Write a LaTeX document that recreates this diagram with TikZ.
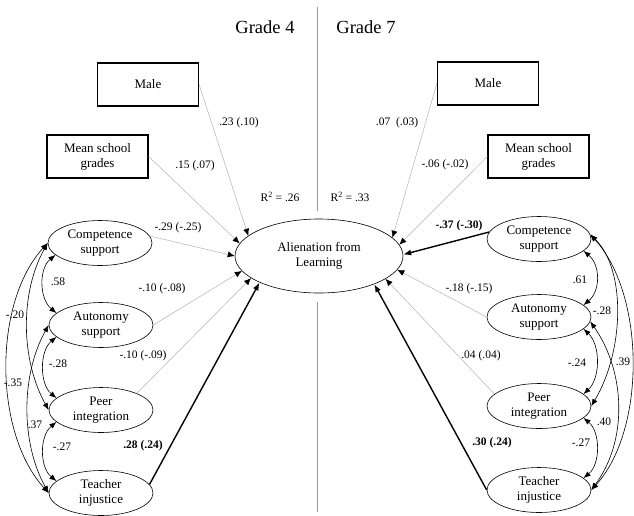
\documentclass[tikz,border=0pt]{standalone}
\usepackage{fontspec}
\setmainfont{Liberation Serif}
\usetikzlibrary{shapes.geometric,arrows.meta}
\begin{document}
\begin{tikzpicture}[x=1pt,y=-1pt,
  box/.style={draw,line width=1.3pt,minimum width=101pt,minimum height=43pt,inner sep=0pt,align=center,font=\fontsize{13}{15}\selectfont},
  ell/.style={ellipse,draw,line width=0.6pt,minimum width=104pt,minimum height=45pt,inner sep=0pt,align=center,font=\fontsize{13}{15}\selectfont},
  lab/.style={font=\fontsize{11.5}{13}\selectfont,inner sep=0pt},
  head/.style={font=\fontsize{18.5}{20}\selectfont,inner sep=0pt},
  ns/.style={draw=gray!60,line width=0.5pt,-{Latex[length=7pt,width=6pt,color=black]}},
  sig/.style={draw=black,line width=1.4pt,-{Latex[length=8pt,width=6pt]}},
  cor/.style={draw=black,line width=0.6pt,{Latex[length=7pt,width=5.5pt]}-{Latex[length=7pt,width=5.5pt]}},
  divider/.style={draw=gray!80,line width=0.8pt}
]
\useasboundingbox (0,0) rectangle (634,515);

% divider
\draw[divider] (317,7) -- (317,211);
\draw[divider] (317,302) -- (317,512);

% headings
\node[head] (g4) at (265,27) {Grade 4};
\node[head] (g7) at (366,27) {Grade 7};
\node[lab] (r4) at (280,197) {R\textsuperscript{2} = .26};
\node[lab] (r7) at (350,197) {R\textsuperscript{2} = .33};

% central node
\node[ell,minimum width=168pt,minimum height=74pt] (alien) at (319,256) {Alienation from\\Learning};

% Grade 4 nodes
\node[box] (male4) at (148,84.5) {Male};
\node[box] (msg4) at (97.5,156.5) {Mean school\\grades};
\node[ell] (comp4) at (100,243) {Competence\\support};
\node[ell] (auto4) at (101,325) {Autonomy\\support};
\node[ell] (peer4) at (101,410) {Peer\\integration};
\node[ell] (teach4) at (101,493) {Teacher\\injustice};

% Grade 7 nodes
\node[box] (male7) at (488,83.5) {Male};
\node[box] (msg7) at (538.5,156.5) {Mean school\\grades};
\node[ell] (comp7) at (539,239) {Competence\\support};
\node[ell] (auto7) at (539,317) {Autonomy\\support};
\node[ell] (peer7) at (539,406) {Peer\\integration};
\node[ell] (teach7) at (539,490) {Teacher\\injustice};

% Grade 4 paths
\draw[ns] (male4.east) -- (alien.164);
\draw[ns] (msg4.east) -- (alien.171);
\draw[ns] (comp4.8) -- (alien.180);
\draw[ns] (auto4.east) -- (alien.191);
\draw[ns] (peer4.25) -- (alien.198);
\draw[sig] (teach4.10) -- (alien.204);

% Grade 7 paths
\draw[ns] (male7.west) -- (alien.14);
\draw[ns] (msg7.west) -- (alien.8);
\draw[sig] (comp7.172) -- (alien.1);
\draw[ns] (auto7.west) -- (alien.-10);
\draw[ns] (peer7.165) -- (alien.-19);
\draw[sig] (teach7.180) -- (alien.-27);

% Grade 4 path labels
\node[lab] (l1) at (239,123) {.23 (.10)};
\node[lab] (l2) at (195,166) {.15 (.07)};
\node[lab] (l3) at (178,228) {-.29 (-.25)};
\node[lab] (l4) at (162,289) {-.10 (-.08)};
\node[lab] (l5) at (143,356) {-.10 (-.09)};
\node[lab] (l6) at (143,446) {\textbf{.28 (.24)}};

% Grade 7 path labels
\node[lab] (m1) at (397,123) {.07\ \ (.03)};
\node[lab] (m2) at (445,165) {-.06 (-.02)};
\node[lab] (m3) at (459,226) {\textbf{-.37 (-.30)}};
\node[lab] (m4) at (469,289) {-.18 (-.15)};
\node[lab] (m5) at (481,356) {.04 (.04)};
\node[lab] (m6) at (492,443) {\textbf{.30 (.24)}};

% Grade 4 correlations
\draw[cor] (comp4.195) .. controls +(-17,14) and +(-17,-14) .. (auto4.165);
\draw[cor] (auto4.195) .. controls +(-17,14) and +(-17,-14) .. (peer4.165);
\draw[cor] (peer4.195) .. controls +(-17,14) and +(-17,-14) .. (teach4.165);
\draw[cor] (comp4.180) .. controls +(-28,50) and +(-28,-50) .. (peer4.180);
\draw[cor] (auto4.180) .. controls +(-28,50) and +(-28,-50) .. (teach4.180);
\draw[cor] (comp4.180) .. controls +(-55,60) and +(-55,-60) .. (teach4.180);

\node[lab] (c1) at (58,282) {.58};
\node[lab] (c2) at (15,315) {-.20};
\node[lab] (c3) at (58,364) {-.28};
\node[lab] (c4) at (13,383) {-.35};
\node[lab] (c5) at (35,425) {.37};
\node[lab] (c6) at (62,447) {-.27};

% Grade 7 correlations
\draw[cor] (comp7.-15) .. controls +(17,14) and +(17,-14) .. (auto7.15);
\draw[cor] (auto7.-15) .. controls +(17,16) and +(17,-16) .. (peer7.15);
\draw[cor] (peer7.-15) .. controls +(17,14) and +(17,-14) .. (teach7.15);
\draw[cor] (comp7.5) .. controls +(36,35) and +(33,-55) .. (peer7.0);
\draw[cor] (auto7.-5) .. controls +(35,50) and +(37,-50) .. (teach7.0);
\draw[cor] (comp7.5) .. controls +(55,60) and +(55,-60) .. (teach7.0);

\node[lab] (d1) at (580,280) {.61};
\node[lab] (d2) at (602,311) {-.28};
\node[lab] (d3) at (577,363) {-.24};
\node[lab] (d4) at (623,362) {.39};
\node[lab] (d5) at (604,422) {.40};
\node[lab] (d6) at (581,443) {-.27};
\end{tikzpicture}
\end{document}
